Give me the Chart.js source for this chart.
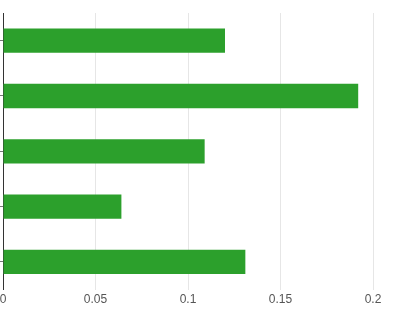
<!DOCTYPE html>
<html>
<head>
<meta charset="utf-8">
<script src="https://cdn.jsdelivr.net/npm/chart.js@4/dist/chart.umd.min.js"></script>
<style>
  html, body { margin: 0; padding: 0; background: #fff; }
  #wrap { width: 399px; height: 314px; position: relative; }
</style>
</head>
<body>
<div id="wrap"><canvas id="c"></canvas></div>
<script>
const categories = ["A", "B", "C", "D", "E"];
const values = [0.12, 0.192, 0.109, 0.064, 0.131];
const xTicks = [0, 0.05, 0.1, 0.15, 0.2];

new Chart(document.getElementById('c'), {
  type: 'bar',
  data: {
    labels: categories,
    datasets: [{
      data: values,
      backgroundColor: '#2ca02c',
      borderColor: '#2ca02c',
      borderWidth: 0,
      categoryPercentage: 0.44,
      barPercentage: 1
    }]
  },
  options: {
    indexAxis: 'y',
    responsive: true,
    maintainAspectRatio: false,
    animation: false,
    layout: { padding: { top: 13, right: 26, left: 0, bottom: 4 } },
    plugins: { legend: { display: false }, tooltip: { enabled: false } },
    scales: {
      x: {
        min: 0, max: 0.2,
        afterBuildTicks: (s) => { s.ticks = xTicks.map(v => ({ value: v })); },
        afterFit: (s) => { s.paddingLeft = 0; s.paddingRight = 0; },
        grid: { color: '#e6e6e6', drawTicks: false },
        border: { display: false },
        ticks: {
          padding: 3,
          color: '#555',
          font: { family: 'Liberation Sans, Arial, sans-serif', size: 12 },
          callback: (v) => String(v)
        }
      },
      y: {
        afterFit: (s) => { s.width = 3; },
        grid: { offset: false, drawOnChartArea: false, drawTicks: true, tickLength: 3, color: '#777' },
        border: { display: true, color: '#333', width: 1 },
        ticks: { display: false }
      }
    }
  }
});
</script>
</body>
</html>
